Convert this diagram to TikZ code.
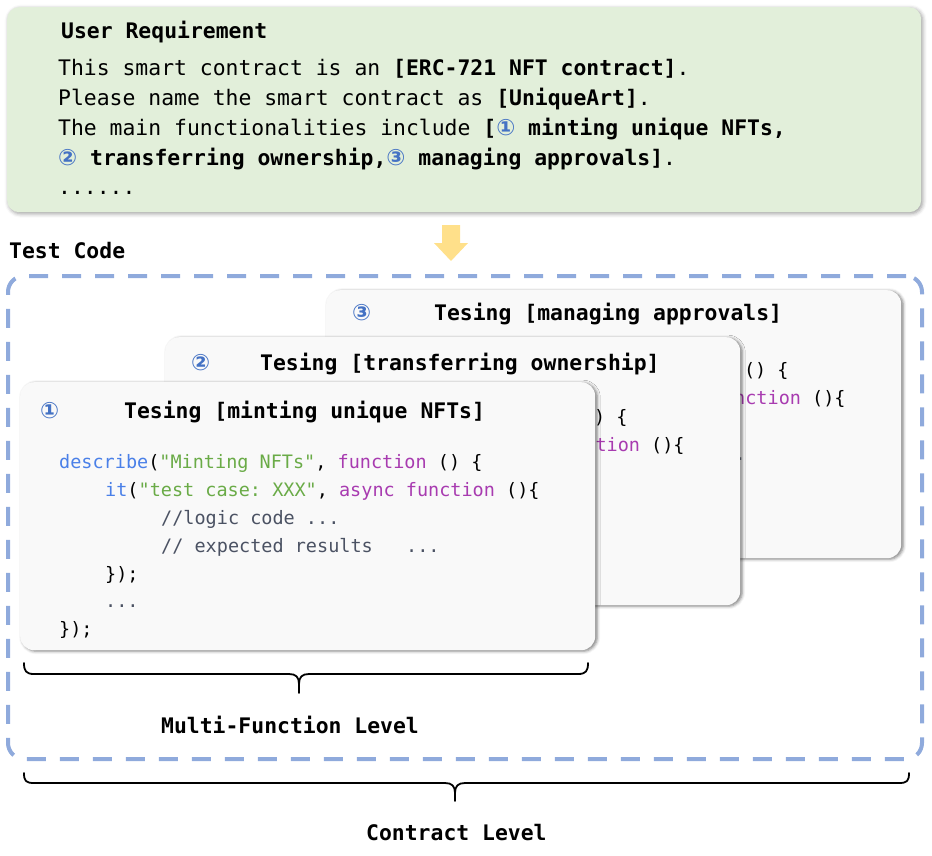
\documentclass[tikz,border=0pt]{standalone}
\usepackage{fontspec}
\setmonofont{DejaVu Sans Mono}
\newfontfamily\circfont{DejaVu Sans}
\usetikzlibrary{shadows.blur}
\definecolor{greenbg}{HTML}{E2EFDA}
\definecolor{cardbg}{HTML}{F9F9F9}
\definecolor{dashblue}{HTML}{8FAADC}
\definecolor{arrowyel}{HTML}{FFE08A}
\definecolor{cblue}{HTML}{4472C4}
\definecolor{kwblue}{HTML}{4A80E8}
\definecolor{strgreen}{HTML}{6AAB47}
\definecolor{kwmag}{HTML}{A83BB0}
\definecolor{cmtgray}{HTML}{4B5263}
\newcommand\cnum[1]{{\circfont\bfseries\fontsize{22.5}{25}\selectfont\color{cblue}#1}}
\tikzset{
  txt/.style={anchor=base west, inner sep=0pt, font=\ttfamily\fontsize{21.4}{25}\selectfont},
  btxt/.style={anchor=base west, inner sep=0pt, font=\ttfamily\bfseries\fontsize{21.4}{25}\selectfont},
  codetxt/.style={anchor=base west, inner sep=0pt, font=\ttfamily\fontsize{18.5}{22}\selectfont},
  cnumtxt/.style={anchor=base west, inner sep=0pt, font=\circfont\bfseries\fontsize{22.5}{25}\selectfont, text=cblue},
  cardbox/.style={anchor=north west, fill=cardbg, rounded corners=14pt, minimum width=575pt, minimum height=268pt, inner sep=0pt,
    blur shadow={shadow xshift=2pt, shadow yshift=-1pt, shadow blur radius=3pt, shadow opacity=50}},
  bracepath/.style={draw=black, line width=1.8pt, line cap=round, line join=round},
}
\begin{document}
\begin{tikzpicture}[x=1pt, y=-1pt]
\useasboundingbox (0,0) rectangle (932,856);

% user requirement box
\node[anchor=north west, fill=greenbg, rounded corners=12pt, minimum width=914pt, minimum height=205pt, inner sep=0pt,
  blur shadow={shadow xshift=1.5pt, shadow yshift=-1.5pt, shadow blur radius=4pt, shadow opacity=40}] (req) at (7,7) {};
\node[btxt] (rq0) at (61,39) {User Requirement};
\node[txt] (rq1) at (58,76) {This smart contract is an \textbf{[ERC-721 NFT contract]}.};
\node[txt] (rq2) at (58,106) {Please name the smart contract as \textbf{[UniqueArt]}.};
\node[txt] (rq3) at (58,136) {The main functionalities include \textbf{[}\cnum{①}\textbf{ minting unique NFTs,}};
\node[txt] (rq4) at (58,166) {\cnum{②}\textbf{ transferring ownership,}\cnum{③}\textbf{ managing approvals]}.};
\node[txt] (rq5) at (58,194) {......};

% arrow
\fill[arrowyel] (442,225) -- (460,225) -- (460,243) -- (468,243) -- (451,261) -- (434,243) -- (442,243) -- cycle;

\node[btxt] (tc) at (9,258) {Test Code};

% dashed container
\node[anchor=north west, draw=dashblue, line width=4pt, dash pattern=on 19pt off 14pt, rounded corners=16pt,
  minimum width=914pt, minimum height=483pt, inner sep=0pt] (cont) at (6,274) {};

% card 3 (only the code that peeks out is shown)
\node[cardbox] (c3) at (326,290) {};
\begin{scope}[shift={(c3.north west)}]
  \node[codetxt] (cc1) at (417.8,86) {() \{};
  \node[codetxt] (cc2) at (408,114) {\textcolor{kwmag}{nction} ()\{};
  \node[codetxt, text=cmtgray] (cc4) at (408.4,170) {.};
\end{scope}
\node[cnumtxt] (n3) at (352,320) {③};
\node[btxt] (t3) at (434,320) {Tesing [managing approvals]};

% card 2
\node[cardbox] (c2) at (165,337) {};
\begin{scope}[shift={(c2.north west)}]
  \node[codetxt] (bb1) at (428.9,86) {) \{};
  \node[codetxt] (bb2) at (430.3,114) {\textcolor{kwmag}{tion} ()\{};
\end{scope}
\node[cnumtxt] (n2) at (191,370) {②};
\node[btxt] (t2) at (260,370) {Tesing [transferring ownership]};

% card 1
\node[cardbox] (c1) at (20,382) {};
\begin{scope}[shift={(c1.north west)}]
  \node[codetxt] (aa1) at (39,86) {\textcolor{kwblue}{describe}(\textcolor{strgreen}{"Minting NFTs"}, \textcolor{kwmag}{function} () \{};
  \node[codetxt] (aa2) at (85,114) {\textcolor{kwblue}{it}(\textcolor{strgreen}{"test case: XXX"}, \textcolor{kwmag}{async function} ()\{};
  \node[codetxt, text=cmtgray] (aa3) at (141,142) {//logic code ...};
  \node[codetxt, text=cmtgray] (aa4) at (141,170) {// expected results\ \ \ ...};
  \node[codetxt] (aa5) at (85,198) {\});};
  \node[codetxt, text=cmtgray] (aa6) at (85,225) {...};
  \node[codetxt] (aa7) at (39,253) {\});};
\end{scope}
\node[cnumtxt] (n1) at (40,418) {①};
\node[btxt] (t1) at (124,418) {Tesing [minting unique NFTs]};

% braces
\draw[bracepath] (24,663) .. controls (24,671) and (26,674) .. (34,674) -- (289,674) .. controls (296,674) and (299,677) .. (299,684) -- (299,693);
\draw[bracepath] (299,684) .. controls (299,677) and (302,674) .. (309,674) -- (578,674) .. controls (586,674) and (588,671) .. (588,663);
\draw[bracepath] (24,773) .. controls (24,781) and (26,783) .. (34,783) -- (445,783) .. controls (452,783) and (455,786) .. (455,793) -- (455,801);
\draw[bracepath] (455,793) .. controls (455,786) and (458,783) .. (465,783) -- (899,783) .. controls (907,783) and (909,781) .. (909,773);

\node[btxt] (mfl) at (161,733) {Multi-Function Level};
\node[btxt] (cl) at (366,840) {Contract Level};
\end{tikzpicture}
\end{document}
